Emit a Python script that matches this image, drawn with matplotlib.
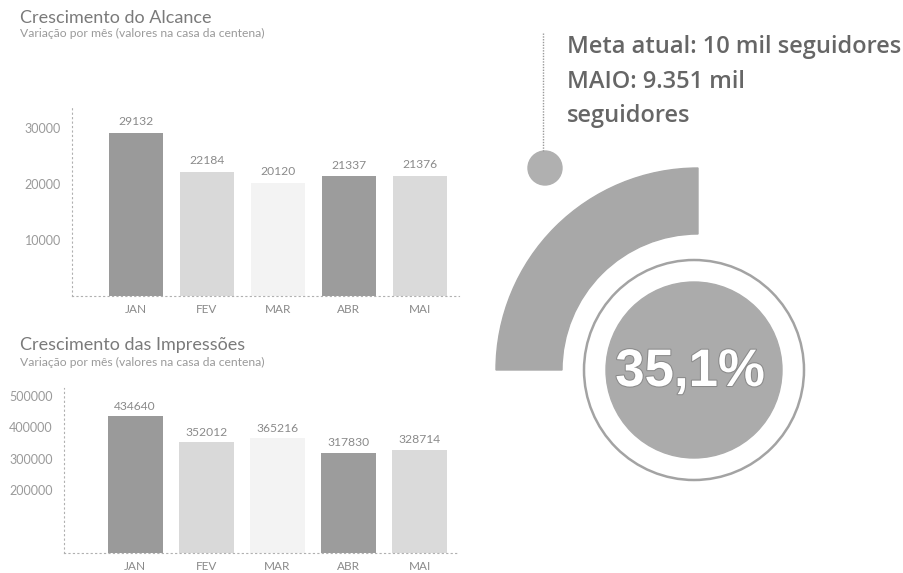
import matplotlib
matplotlib.use("Agg")
from matplotlib import pyplot as plt
from matplotlib.patches import Wedge, Circle
import matplotlib.patheffects as pe

# monthly data
months = ["JAN", "FEV", "MAR", "ABR", "MAI"]
alcance = [29132, 22184, 20120, 21337, 21376]
impressoes = [434640, 352012, 365216, 317830, 328714]
bar_colors = ["#9a9a9a", "#d9d9d9", "#f3f3f3", "#9c9c9c", "#dadada"]

alcance_ticks = [10000, 20000, 30000]
impressoes_ticks = [200000, 300000, 400000, 500000]

meta_lines = ["Meta atual: 10 mil seguidores", "MAIO: 9.351 mil", "seguidores"]
progresso = "35,1%"

W, H = 904, 573
fig = plt.figure(figsize=(W / 100, H / 100), dpi=100)

light = ["Lato", "DejaVu Sans"]


def px_axes(left, top, right, bottom):
    return fig.add_axes([left / W, 1 - bottom / H, (right - left) / W, (bottom - top) / H])


def bar_chart(ax, vals, ticks, ylim, xlim, label_pad):
    x = list(range(len(vals)))
    ax.bar(x, vals, width=0.77, color=bar_colors, zorder=2)
    ax.set_xlim(*xlim)
    ax.set_ylim(*ylim)
    ax.set_yticks(ticks)
    ax.set_yticklabels([str(t) for t in ticks], family=light, fontsize=9, color="#9a9a9a")
    ax.set_xticks(x)
    ax.set_xticklabels(months, family=light, fontsize=8.5, color="#8a8a8a")
    ax.tick_params(axis="both", length=0)
    ax.tick_params(axis="y", pad=8)
    ax.tick_params(axis="x", pad=6)
    for s in ["top", "right"]:
        ax.spines[s].set_visible(False)
    for s in ["left", "bottom"]:
        ax.spines[s].set_linestyle((0, (1, 3)))
        ax.spines[s].set_color("#b0b0b0")
        ax.spines[s].set_linewidth(0.8)
    for i, v in enumerate(vals):
        ax.text(i, v + label_pad, str(v), ha="center", va="bottom",
                family=light, fontsize=8.7, color="#8a8a8a")


# alcance
fig.text(20 / W, 1 - 18 / H, "Crescimento do Alcance", family=light,
         fontsize=13, color="#7a7a7a", va="center")
fig.text(20 / W, 1 - 33 / H, "Variação por mês (valores na casa da centena)", family=light,
         fontsize=8.7, color="#9a9a9a", va="center")
ax1 = px_axes(72, 108, 459, 296)
bar_chart(ax1, alcance, alcance_ticks, (0, 33500), (-0.9, 4.55), 1000)

# impressões
fig.text(20 / W, 1 - 345 / H, "Crescimento das Impressões", family=light,
         fontsize=13, color="#7a7a7a", va="center")
fig.text(20 / W, 1 - 362 / H, "Variação por mês (valores na casa da centena)", family=light,
         fontsize=8.7, color="#9a9a9a", va="center")
ax2 = px_axes(64, 388, 459, 553)
bar_chart(ax2, impressoes, impressoes_ticks, (0, 525000), (-1.0, 4.55), 15000)

# meta / progresso panel, drawn in pixel units
ov = fig.add_axes([0, 0, 1, 1])
ov.set_xlim(0, W)
ov.set_ylim(H, 0)
ov.axis("off")

ov.plot([543, 543], [33, 152], color="#9a9a9a", lw=1, ls=(0, (1, 1)))
ov.add_patch(Circle((545, 168), 17, color="#b0b0b0"))

ov.add_patch(Wedge((698, 370), 202, 180, 270, width=66, color="#a8a8a8"))
ov.add_patch(Circle((694, 370), 110, fill=False, edgecolor="#a3a3a3", lw=1.8))
ov.add_patch(Circle((694, 370), 88, color="#ababab"))
ov.text(690, 372, progresso, ha="center", va="center", color="white",
        family=["Liberation Sans", "DejaVu Sans"], weight="bold", fontsize=38,
        path_effects=[pe.withStroke(linewidth=1.5, foreground="#8a8a8a")])

for i, line in enumerate(meta_lines):
    ov.text(567, 47 + i * 34.5, line, ha="left", va="center", color="#666666",
            family=["Open Sans", "DejaVu Sans"], weight="semibold", fontsize=17)

fig.savefig("out.png", dpi=100)
